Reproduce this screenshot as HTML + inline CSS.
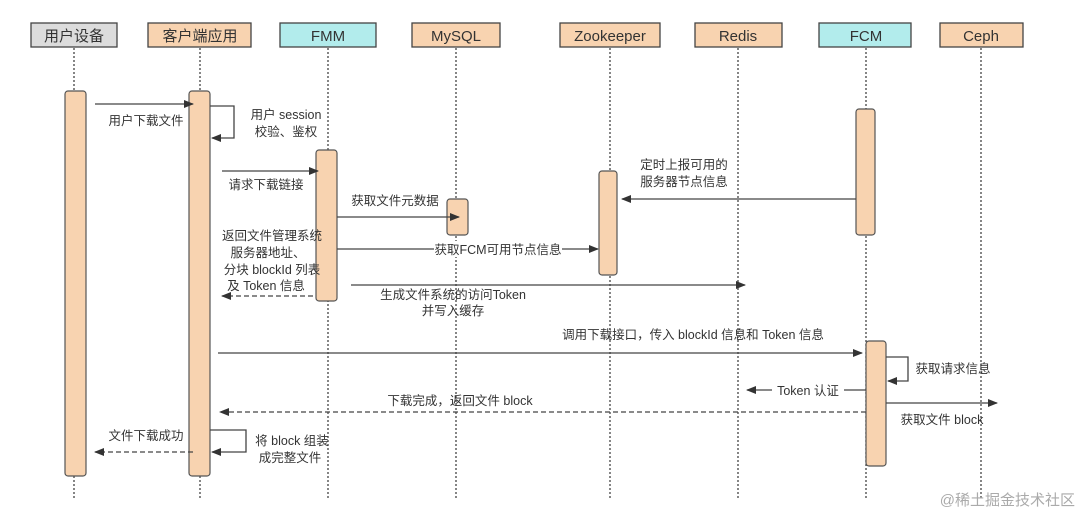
<!DOCTYPE html>
<html><head><meta charset="utf-8"><style>
html,body{margin:0;padding:0;background:#fff;}
svg{display:block;font-family:"Liberation Sans","Noto Sans CJK SC",sans-serif;}
text{fill:#333;font-size:12.5px;}
.h{font-size:15px;fill:#333;}
</style></head><body>
<svg width="1080" height="518" viewBox="0 0 1080 518">
<defs>
<marker id="a" markerWidth="10" markerHeight="8" refX="9" refY="4" orient="auto" markerUnits="userSpaceOnUse"><path d="M0,0 L10,4 L0,8 z" fill="#333"/></marker>
</defs>
<g stroke="#444" stroke-width="1.3" stroke-dasharray="2,2">
<line x1="74" y1="48" x2="74" y2="498"/><line x1="200" y1="48" x2="200" y2="498"/>
<line x1="328" y1="48" x2="328" y2="498"/><line x1="456" y1="48" x2="456" y2="498"/>
<line x1="610" y1="48" x2="610" y2="498"/><line x1="738" y1="48" x2="738" y2="498"/>
<line x1="866" y1="48" x2="866" y2="498"/><line x1="981" y1="48" x2="981" y2="498"/>
</g>
<g stroke="#444" stroke-width="1.3">
<rect x="31" y="23" width="86" height="24" fill="#dcdcdc"/>
<rect x="148" y="23" width="103" height="24" fill="#f8d3b0"/>
<rect x="280" y="23" width="96" height="24" fill="#b2ecec"/>
<rect x="412" y="23" width="88" height="24" fill="#f8d3b0"/>
<rect x="560" y="23" width="100" height="24" fill="#f8d3b0"/>
<rect x="695" y="23" width="87" height="24" fill="#f8d3b0"/>
<rect x="819" y="23" width="92" height="24" fill="#b2ecec"/>
<rect x="940" y="23" width="83" height="24" fill="#f8d3b0"/>
</g>
<g class="h" text-anchor="middle">
<text class="h" x="74" y="41">用户设备</text><text class="h" x="200" y="41">客户端应用</text>
<text class="h" x="328" y="41">FMM</text><text class="h" x="456" y="41">MySQL</text>
<text class="h" x="610" y="41">Zookeeper</text><text class="h" x="738" y="41">Redis</text>
<text class="h" x="866" y="41">FCM</text><text class="h" x="981" y="41">Ceph</text>
</g>
<g stroke="#555" stroke-width="1.2" fill="#f8d3b0">
<rect x="65" y="91" width="21" height="385" rx="3"/>
<rect x="189" y="91" width="21" height="385" rx="3"/>
<rect x="316" y="150" width="21" height="151" rx="3"/>
<rect x="447" y="199" width="21" height="36" rx="3"/>
<rect x="599" y="171" width="18" height="104" rx="3"/>
<rect x="856" y="109" width="19" height="126" rx="3"/>
<rect x="866" y="341" width="20" height="125" rx="3"/>
</g>
<g stroke="#444" stroke-width="1.3" fill="none">
<line x1="95" y1="104" x2="193" y2="104" marker-end="url(#a)"/>
<polyline points="210,106 234,106 234,138 212,138" marker-end="url(#a)"/>
<line x1="222" y1="171" x2="318" y2="171" marker-end="url(#a)"/>
<line x1="337" y1="217" x2="459" y2="217" marker-end="url(#a)"/>
<line x1="337" y1="249" x2="598" y2="249" marker-end="url(#a)"/>
<line x1="313" y1="296" x2="222" y2="296" stroke-dasharray="5,3" marker-end="url(#a)"/>
<line x1="351" y1="285" x2="745" y2="285" marker-end="url(#a)"/>
<line x1="856" y1="199" x2="622" y2="199" marker-end="url(#a)"/>
<line x1="218" y1="353" x2="862" y2="353" marker-end="url(#a)"/>
<polyline points="886,357 908,357 908,381 888,381" marker-end="url(#a)"/>
<line x1="866" y1="390" x2="747" y2="390" marker-end="url(#a)"/>
<line x1="886" y1="403" x2="997" y2="403" marker-end="url(#a)"/>
<line x1="866" y1="412" x2="220" y2="412" stroke-dasharray="5,3" marker-end="url(#a)"/>
<polyline points="210,430 246,430 246,452 212,452" marker-end="url(#a)"/>
<line x1="193" y1="452" x2="95" y2="452" stroke-dasharray="5,3" marker-end="url(#a)"/>
</g>
<rect x="434" y="241" width="128" height="16" fill="#fff"/>
<rect x="772" y="382" width="72" height="16" fill="#fff"/>
<g text-anchor="middle">
<text x="146" y="125">用户下载文件</text>
<text x="286" y="119">用户 session</text><text x="286" y="136">校验、鉴权</text>
<text x="266" y="189">请求下载链接</text>
<text x="395" y="205">获取文件元数据</text>
<text x="498" y="254">获取FCM可用节点信息</text>
<text x="272" y="240">返回文件管理系统</text><text x="268" y="257">服务器地址、</text>
<text x="272" y="274">分块 blockId 列表</text><text x="266" y="290">及 Token 信息</text>
<text x="453" y="299">生成文件系统的访问Token</text><text x="453" y="315">并写入缓存</text>
<text x="684" y="169">定时上报可用的</text><text x="684" y="186">服务器节点信息</text>
<text x="693" y="339">调用下载接口，传入 blockId 信息和 Token 信息</text>
<text x="953" y="373">获取请求信息</text>
<text x="808" y="395">Token 认证</text>
<text x="942" y="424">获取文件 block</text>
<text x="460" y="405">下载完成，返回文件 block</text>
<text x="292" y="445">将 block 组装</text><text x="290" y="462">成完整文件</text>
<text x="146" y="440">文件下载成功</text>
</g>
<text x="1075" y="505" text-anchor="end" style="font-size:15px;fill:#aaa">@稀土掘金技术社区</text>
</svg>
</body></html>
